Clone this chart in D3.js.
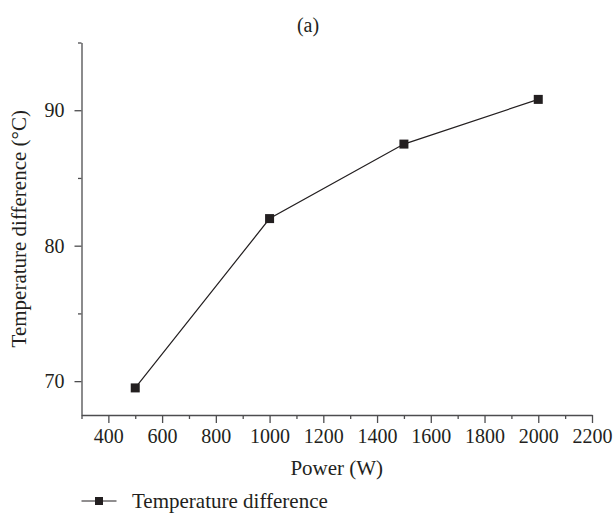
<!DOCTYPE html>
<html>
<head>
<meta charset="utf-8">
<script src="https://cdn.jsdelivr.net/npm/d3@7"></script>
</head>
<body style="margin:0;padding:0;background:#fff">
<svg id="chart" width="613" height="514" style="display:block;font-family:'Liberation Serif'"></svg>
<script>
const power = [500, 1000, 1500, 2000];
const tempDiff = [69.5, 82.0, 87.5, 90.8];
const xMajorTicks = [400, 600, 800, 1000, 1200, 1400, 1600, 1800, 2000, 2200];
const xMinorTicks = [300, 500, 700, 900, 1100, 1300, 1500, 1700, 1900, 2100];
const yMajorTicks = [70, 80, 90];
const yMinorTicks = [75, 85, 95];
const seriesName = "Temperature difference";

(function () {
const FONT = "font-family:'Liberation Serif'";
const svg = d3.select("#chart");
const mLeft = 81.5, mRight = 592, mTop = 42.5, mBottom = 415;
const x = d3.scaleLinear().domain([300, 2200]).range([mLeft, mRight]);
const y = d3.scaleLinear().domain([67.5, 95]).range([mBottom, mTop]);
const axisColor = "#4d4d4f";
const ink = "#231f20";

// Minor ticks
const gxMinor = svg.append("g").attr("transform", `translate(0,${mBottom})`)
  .call(d3.axisBottom(x).tickValues(xMinorTicks).tickSize(4).tickFormat(""));
const gyMinor = svg.append("g").attr("transform", `translate(${mLeft},0)`)
  .call(d3.axisLeft(y).tickValues(yMinorTicks).tickSize(3.5).tickFormat(""));
[gxMinor, gyMinor].forEach(g => { g.select(".domain").remove(); g.selectAll("line").attr("stroke", axisColor).attr("stroke-width", 1.3); });

// Major axes
const gx = svg.append("g").attr("transform", `translate(0,${mBottom})`)
  .call(d3.axisBottom(x).tickValues(xMajorTicks).tickSize(8).tickSizeOuter(0).tickPadding(6).tickFormat(d3.format("d")));
const gy = svg.append("g").attr("transform", `translate(${mLeft},0)`)
  .call(d3.axisLeft(y).tickValues(yMajorTicks).tickSize(7).tickSizeOuter(0).tickPadding(10).tickFormat(d3.format("d")));
[gx, gy].forEach(g => {
  g.attr("font-family", null).attr("font-size", null);
  g.select(".domain").attr("stroke", axisColor).attr("stroke-width", 1.3);
  g.selectAll(".tick line").attr("stroke", axisColor).attr("stroke-width", 1.3);
  g.selectAll(".tick text").attr("style", FONT).attr("font-size", 20).attr("fill", ink);
});

// Line
const data = power.map((p, i) => ({ p, t: tempDiff[i] }));
svg.append("path").datum(data)
  .attr("fill", "none").attr("stroke", ink).attr("stroke-width", 1.2)
  .attr("d", d3.line().x(d => x(d.p)).y(d => y(d.t)));

const ms = 9;
svg.selectAll("rect.pt").data(data).enter().append("rect")
  .attr("class", "pt")
  .attr("x", d => x(d.p) - ms / 2).attr("y", d => y(d.t) - ms / 2)
  .attr("width", ms).attr("height", ms).attr("fill", ink);

// Title
svg.append("text").attr("style", FONT).attr("fill", ink).attr("x", 308).attr("y", 32).attr("text-anchor", "middle")
  .attr("font-size", 20).text("(a)");

// Axis labels
svg.append("text").attr("style", FONT).attr("fill", ink).attr("x", (mLeft + mRight) / 2).attr("y", 475).attr("text-anchor", "middle")
  .attr("font-size", 21).text("Power (W)");
svg.append("text").attr("style", FONT).attr("fill", ink).attr("transform", `translate(26,${(mTop + mBottom) / 2}) rotate(-90)`)
  .attr("text-anchor", "middle").attr("font-size", 21).text("Temperature difference (°C)");

// Legend
const ly = 501;
svg.append("line").attr("x1", 81.5).attr("x2", 116.5).attr("y1", ly).attr("y2", ly)
  .attr("stroke", ink).attr("stroke-width", 1.2);
svg.append("rect").attr("x", 99 - 4).attr("y", ly - 4).attr("width", 8).attr("height", 8).attr("fill", ink);
svg.append("text").attr("style", FONT).attr("fill", ink).attr("x", 132).attr("y", ly + 6.5).attr("font-size", 21).text(seriesName);
})();
</script>
</body>
</html>
